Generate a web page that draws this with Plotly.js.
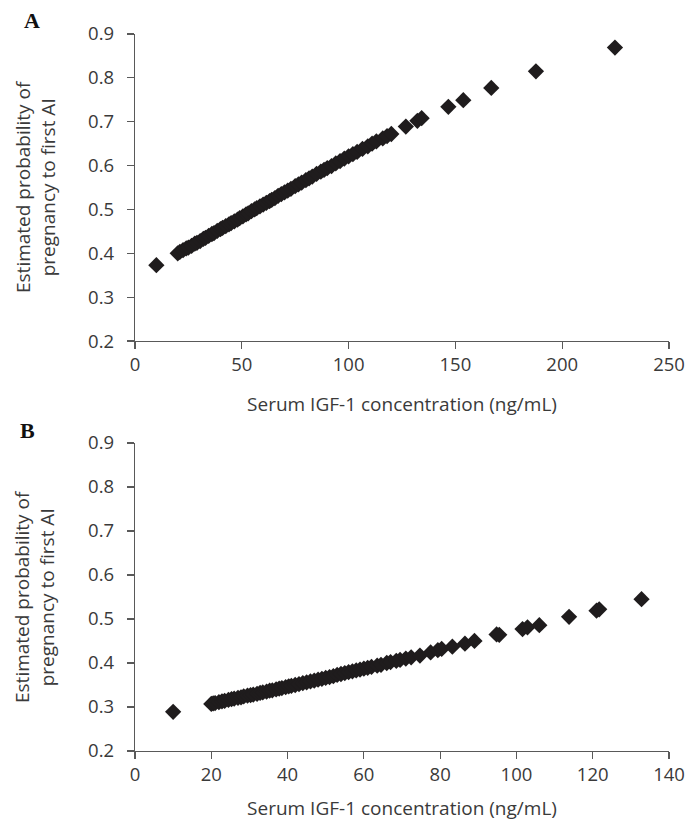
<!DOCTYPE html>
<html>
<head>
<meta charset="utf-8">
<script src="https://cdn.plot.ly/plotly-3.0.1.min.js"></script>
<style>
  html, body { margin: 0; padding: 0; background: #fff; }
  #chart { width: 697px; height: 821px; }
</style>
</head>
<body>
<div id="chart"></div>
<script>
// Panel A: serum IGF-1 (ng/mL) vs estimated probability of pregnancy to first AI
const igfA = [10, 20, 21, 22.5, 24, 25, 26.5, 28, 29, 30.5, 32, 33, 34.5, 36, 37, 38.5, 40, 41, 42.5, 44, 45, 46.5, 48, 49, 50.5, 52, 53, 54.5, 56, 57, 58.5, 60, 61.5, 63, 64, 65.5, 67, 68.5, 70, 71.5, 73, 75, 76.5, 78, 80, 81.5, 83, 85, 87, 88.5, 90, 92, 94, 96, 98, 100, 102, 104, 106.5, 109, 111, 113, 116, 118, 120, 126.8, 132.2, 134.2, 146.7, 153.7, 166.8, 187.7, 224.7];
const probA = [0.373, 0.400, 0.403, 0.407, 0.411, 0.413, 0.417, 0.422, 0.424, 0.428, 0.433, 0.435, 0.440, 0.444, 0.446, 0.451, 0.455, 0.458, 0.462, 0.466, 0.469, 0.473, 0.477, 0.480, 0.484, 0.489, 0.491, 0.496, 0.500, 0.503, 0.507, 0.511, 0.515, 0.519, 0.522, 0.526, 0.531, 0.535, 0.539, 0.543, 0.547, 0.553, 0.557, 0.561, 0.567, 0.571, 0.575, 0.581, 0.586, 0.590, 0.594, 0.599, 0.605, 0.610, 0.616, 0.621, 0.626, 0.631, 0.638, 0.644, 0.650, 0.655, 0.662, 0.667, 0.672, 0.689, 0.702, 0.708, 0.734, 0.749, 0.777, 0.815, 0.869];

// Panel B
const igfB = [10, 20, 20.5, 21, 22, 22.8, 23.5, 24.5, 25.3, 26, 27, 27.8, 28.5, 29.5, 30.3, 31, 32, 32.8, 33.5, 34.5, 35.3, 36, 37, 37.8, 38.5, 39.5, 40.3, 41, 42, 43, 44, 45, 46, 47, 48, 49, 50, 51, 52, 53, 54, 55, 56, 57, 58, 59, 60, 61, 62, 63.5, 64.5, 66, 67, 68.5, 69.5, 71, 72.4, 74.7, 77.5, 79.4, 80.4, 83.2, 86.5, 89, 94.8, 95.5, 101.6, 102.9, 106, 113.8, 121, 121.7, 132.8];
const probB = [0.289, 0.307, 0.308, 0.309, 0.311, 0.313, 0.314, 0.316, 0.318, 0.319, 0.321, 0.322, 0.324, 0.326, 0.327, 0.328, 0.330, 0.332, 0.333, 0.335, 0.337, 0.338, 0.340, 0.342, 0.343, 0.345, 0.347, 0.348, 0.350, 0.352, 0.354, 0.356, 0.358, 0.360, 0.362, 0.364, 0.366, 0.368, 0.370, 0.373, 0.375, 0.377, 0.379, 0.381, 0.383, 0.385, 0.387, 0.389, 0.391, 0.394, 0.396, 0.400, 0.402, 0.405, 0.407, 0.410, 0.413, 0.417, 0.424, 0.429, 0.432, 0.437, 0.444, 0.450, 0.465, 0.464, 0.477, 0.481, 0.486, 0.505, 0.519, 0.522, 0.545];

const yTicks = [0.2, 0.3, 0.4, 0.5, 0.6, 0.7, 0.8, 0.9];
const xTicksA = [0, 50, 100, 150, 200, 250];
const xTicksB = [0, 20, 40, 60, 80, 100, 120, 140];
const xTitle = 'Serum IGF-1 concentration (ng/mL)';
const yTitle = 'Estimated probability of<br>pregnancy to first AI';

const markerStyle = { symbol: 'diamond', size: 12.5, color: '#1f1c1d', line: { width: 0 } };
const FONT = 'Open Sans, Lato, sans-serif';
const TXT = '#3a3a3a';

const traces = [
  { x: igfA, y: probA, type: 'scatter', mode: 'markers', marker: markerStyle, xaxis: 'x', yaxis: 'y', cliponaxis: false, showlegend: false, hoverinfo: 'x+y' },
  { x: igfB, y: probB, type: 'scatter', mode: 'markers', marker: markerStyle, xaxis: 'x2', yaxis: 'y2', cliponaxis: false, showlegend: false, hoverinfo: 'x+y' }
];

function xAxis(ticks, range, anchor) {
  return {
    domain: [0, 1], anchor: anchor, range: range,
    tickmode: 'array', tickvals: ticks, ticktext: ticks.map(String),
    showgrid: false, zeroline: false, showline: true, linecolor: '#595959', linewidth: 1.2,
    ticks: 'outside', ticklen: 7, tickcolor: '#595959', tickwidth: 1.2,
    tickfont: { family: FONT, size: 18.5, color: TXT },
    title: { text: xTitle, font: { family: FONT, size: 19, color: TXT }, standoff: 22 }
  };
}
function yAxis(domain, anchor) {
  return {
    domain: domain, anchor: anchor, range: [0.2, 0.9],
    tickmode: 'array', tickvals: yTicks, ticktext: yTicks.map(v => v.toFixed(1)),
    showgrid: false, zeroline: false, showline: true, linecolor: '#595959', linewidth: 1.2,
    ticks: 'outside', ticklen: 7, tickcolor: '#595959', tickwidth: 1.2,
    ticklabelstandoff: 9,
    tickfont: { family: FONT, size: 18.5, color: TXT }
  };
}

const ax = (px) => (px - 135) / 534;

const layout = {
  width: 697, height: 821,
  margin: { l: 135, r: 28, t: 34, b: 70 },
  paper_bgcolor: '#fff', plot_bgcolor: '#fff',
  showlegend: false,
  xaxis: xAxis(xTicksA, [0, 250], 'y'),
  yaxis: yAxis([0.5718, 1], 'x'),
  xaxis2: xAxis(xTicksB, [0, 140], 'y2'),
  yaxis2: yAxis([0, 0.4296], 'x2'),
  annotations: [
    { text: '<b>A</b>', xref: 'paper', yref: 'paper', x: ax(32), y: (751 - 20) / 717, xanchor: 'center', yanchor: 'middle', showarrow: false, font: { family: 'Liberation Serif, DejaVu Serif, serif', size: 22, color: '#111' } },
    { text: '<b>B</b>', xref: 'paper', yref: 'paper', x: ax(27), y: (751 - 430) / 717, xanchor: 'center', yanchor: 'middle', showarrow: false, font: { family: 'Liberation Serif, DejaVu Serif, serif', size: 22, color: '#111' } },
    { text: yTitle, xref: 'paper', yref: 'paper', x: ax(36), y: (751 - 187) / 717, xanchor: 'center', yanchor: 'middle', textangle: -90, showarrow: false, align: 'center', font: { family: FONT, size: 19, color: TXT } },
    { text: yTitle, xref: 'paper', yref: 'paper', x: ax(34), y: (751 - 597) / 717, xanchor: 'center', yanchor: 'middle', textangle: -90, showarrow: false, align: 'center', font: { family: FONT, size: 19, color: TXT } }
  ]
};

Plotly.newPlot('chart', traces, layout, { staticPlot: true, displayModeBar: false });
</script>
</body>
</html>
